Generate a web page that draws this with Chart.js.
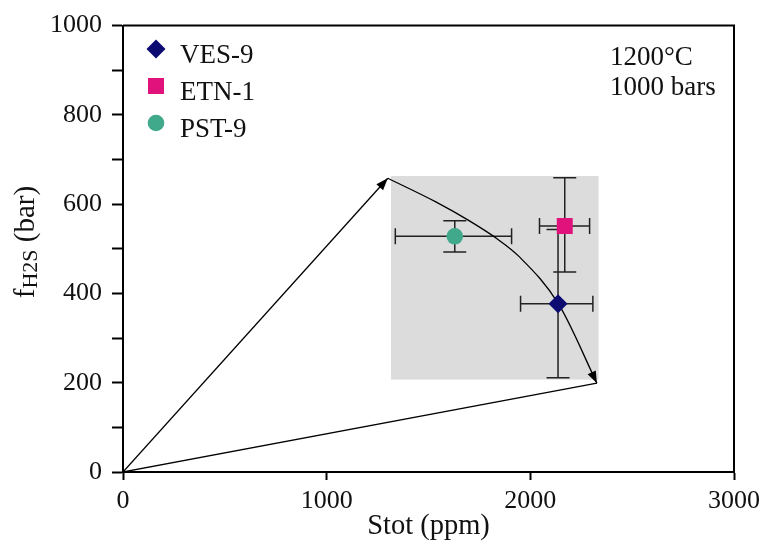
<!DOCTYPE html>
<html>
<head>
<meta charset="utf-8">
<script src="https://cdn.jsdelivr.net/npm/chart.js@4.4.1/dist/chart.umd.min.js"></script>
<style>
  html, body { margin: 0; padding: 0; background: #fff; }
  #wrap { width: 766px; height: 551px; }
</style>
</head>
<body>
<div id="wrap"><canvas id="chart"></canvas></div>
<script>
const samples = ["VES-9", "ETN-1", "PST-9"];
const stot = [2136, 2169, 1629];
const fh2s = [377, 551, 528];
const stotErrLow = [1952, 2045, 1337];
const stotErrHigh = [2307, 2291, 1908];
const fh2sErrLow = [211, 448, 493];
const fh2sErrHigh = [543, 659, 563];

const sampleColors = ["#0b0b72", "#e2127c", "#40a88b"];
const sampleShapes = ["rectRot", "rect", "circle"];
const sampleRadius = [9.5, 11.3, 8.3];

// grey field
const fieldStot = [1316, 2335];
const fieldFh2s = [207, 663];

// paths from the origin and the curve between their ends
const origin = [0, 0];
const upperEnd = [1300, 658];
const lowerEnd = [2327, 199];
const curveStot = [1300, 1536, 1699, 1838, 1944, 2139, 2327];
const curveFh2s = [658, 605, 563, 522, 483, 376, 199];

const xTicks = [0, 1000, 2000, 3000];
const yTicks = [0, 100, 200, 300, 400, 500, 600, 700, 800, 900, 1000];
const yLabels = [0, 200, 400, 600, 800, 1000];

const conditions = ["1200°C", "1000 bars"];

const SERIF = "'Liberation Serif', 'Times New Roman', serif";
const INK = "#111";

const pointSets = samples.map((name, i) => ({
    label: name,
    data: [{ x: stot[i], y: fh2s[i] }],
    pointStyle: sampleShapes[i],
    pointRadius: sampleRadius[i],
    backgroundColor: sampleColors[i],
    borderColor: sampleColors[i],
    borderWidth: 0,
    showLine: false,
    isSample: true,
}));

const lineBase = { showLine: true, pointRadius: 0, borderColor: "#000", borderWidth: 1.3, fill: false };

const lineSets = [
    { ...lineBase, label: "upper", arrow: true, data: [{ x: origin[0], y: origin[1] }, { x: upperEnd[0], y: upperEnd[1] }] },
    { ...lineBase, label: "lower", data: [{ x: origin[0], y: origin[1] }, { x: lowerEnd[0], y: lowerEnd[1] }] },
    {
        ...lineBase,
        label: "curve",
        arrow: true,
        data: curveStot.map((x, i) => ({ x, y: curveFh2s[i] })),
        cubicInterpolationMode: "monotone",
    },
];

const fieldPlugin = {
    id: "field",
    beforeDatasetsDraw(chart) {
        const { ctx, scales: { x, y } } = chart;
        ctx.save();
        // grey box
        const x0 = x.getPixelForValue(fieldStot[0]), x1 = x.getPixelForValue(fieldStot[1]);
        const y0 = y.getPixelForValue(fieldFh2s[1]), y1 = y.getPixelForValue(fieldFh2s[0]);
        ctx.fillStyle = "#dcdcdc";
        ctx.fillRect(x0, y0, x1 - x0, y1 - y0);
        // error bars
        ctx.strokeStyle = "#222";
        ctx.lineWidth = 1.5;
        samples.forEach((s, i) => {
            const cx = x.getPixelForValue(stot[i]), cy = y.getPixelForValue(fh2s[i]);
            const xl = x.getPixelForValue(stotErrLow[i]), xh = x.getPixelForValue(stotErrHigh[i]);
            const yl = y.getPixelForValue(fh2sErrLow[i]), yh = y.getPixelForValue(fh2sErrHigh[i]);
            ctx.beginPath();
            ctx.moveTo(xl, cy); ctx.lineTo(xh, cy);
            ctx.moveTo(xl, cy - 8); ctx.lineTo(xl, cy + 8);
            ctx.moveTo(xh, cy - 8); ctx.lineTo(xh, cy + 8);
            ctx.moveTo(cx, yl); ctx.lineTo(cx, yh);
            ctx.moveTo(cx - 11.5, yl); ctx.lineTo(cx + 11.5, yl);
            ctx.moveTo(cx - 11.5, yh); ctx.lineTo(cx + 11.5, yh);
            ctx.stroke();
        });
        ctx.restore();
    },
};

const arrowPlugin = {
    id: "arrows",
    afterDatasetsDraw(chart) {
        const ctx = chart.ctx;
        ctx.save();
        ctx.fillStyle = "#000";
        chart.data.datasets.forEach((ds, i) => {
            if (!ds.arrow) return;
            const pts = chart.getDatasetMeta(i).data;
            const end = pts[pts.length - 1], prev = pts[pts.length - 2];
            let fx = prev.x, fy = prev.y;
            if (end.cp1x !== undefined && (end.cp1x !== end.x || end.cp1y !== end.y)) { fx = end.cp1x; fy = end.cp1y; }
            const a = Math.atan2(end.y - fy, end.x - fx);
            const len = 12, half = 4.5;
            ctx.beginPath();
            ctx.moveTo(end.x, end.y);
            ctx.lineTo(end.x - len * Math.cos(a) + half * Math.sin(a), end.y - len * Math.sin(a) - half * Math.cos(a));
            ctx.lineTo(end.x - len * Math.cos(a) - half * Math.sin(a), end.y - len * Math.sin(a) + half * Math.cos(a));
            ctx.closePath();
            ctx.fill();
        });
        ctx.restore();
    },
};

const decorPlugin = {
    id: "decor",
    afterDraw(chart) {
        const { ctx, chartArea: a } = chart;
        ctx.save();
        // frame top and right
        ctx.strokeStyle = "#000";
        ctx.lineWidth = 2;
        ctx.beginPath();
        ctx.moveTo(a.left, a.top); ctx.lineTo(a.right, a.top); ctx.lineTo(a.right, a.bottom);
        ctx.stroke();

        // legend
        ctx.font = "27px " + SERIF;
        ctx.fillStyle = INK;
        ctx.textBaseline = "alphabetic";
        const lx = 156, tx = 180, base0 = 63, step = 37;
        chart.data.datasets.forEach(ds => {
            if (!ds.isSample) return;
            const k = samples.indexOf(ds.label);
            const by = base0 + k * step, my = by - 14;
            const r = ds.pointRadius;
            ctx.fillStyle = ds.backgroundColor;
            ctx.beginPath();
            if (ds.pointStyle === "rectRot") {
                ctx.moveTo(lx, my - r); ctx.lineTo(lx + r, my); ctx.lineTo(lx, my + r); ctx.lineTo(lx - r, my);
                ctx.closePath();
            } else if (ds.pointStyle === "rect") {
                const h = r * Math.SQRT1_2;
                ctx.rect(lx - h, my - h, 2 * h, 2 * h);
            } else {
                ctx.arc(lx, my, r, 0, Math.PI * 2);
            }
            ctx.fill();
            ctx.fillStyle = INK;
            ctx.fillText(ds.label, tx, by);
        });

        // run conditions
        ctx.fillText(conditions[0], 610, 65);
        ctx.fillText(conditions[1], 610, 95);

        // y title with subscript
        const big = "29px " + SERIF, small = "22px " + SERIF;
        ctx.font = big; const wF = ctx.measureText("f").width; const wB = ctx.measureText(" (bar)").width;
        ctx.font = small; const wS = ctx.measureText("H2S").width;
        const total = wF + wS + wB;
        ctx.translate(34, 242);
        ctx.rotate(-Math.PI / 2);
        let px = -total / 2;
        ctx.font = big; ctx.fillText("f", px, 0); px += wF;
        ctx.font = small; ctx.fillText("H2S", px, 3); px += wS;
        ctx.font = big; ctx.fillText(" (bar)", px, 0);
        ctx.restore();
    },
};

new Chart(document.getElementById("chart"), {
    type: "scatter",
    data: { datasets: [...pointSets, ...lineSets] },
    plugins: [fieldPlugin, arrowPlugin, decorPlugin],
    options: {
        responsive: true,
        maintainAspectRatio: false,
        animation: false,
        layout: { padding: { left: 0, right: 30, top: 22, bottom: 0 } },
        plugins: { legend: { display: false }, tooltip: { enabled: false } },
        scales: {
            x: {
                type: "linear",
                min: 0,
                max: 3000,
                afterBuildTicks: s => { s.ticks = xTicks.map(v => ({ value: v })); },
                afterFit: s => { s.height = 79; },
                grid: { drawOnChartArea: false, tickLength: 8, tickWidth: 2, tickColor: "#000" },
                border: { color: "#000", width: 2 },
                ticks: { font: { family: SERIF, size: 26 }, color: INK, padding: 6, maxRotation: 0, callback: v => String(v) },
                title: { display: true, text: "Stot (ppm)", font: { family: SERIF, size: 28.5 }, color: INK, padding: { top: 0, bottom: 7 } },
            },
            y: {
                type: "linear",
                min: 0,
                max: 1000,
                afterBuildTicks: s => { s.ticks = yTicks.map(v => ({ value: v })); },
                afterFit: s => { s.width = 123; },
                grid: { drawOnChartArea: false, tickLength: 11, tickWidth: 2, tickColor: "#000" },
                border: { color: "#000", width: 2 },
                ticks: {
                    font: { family: SERIF, size: 26 },
                    color: INK,
                    padding: 10,
                    callback: v => (yLabels.includes(v) ? String(v) : ""),
                },
            },
        },
    },
});
</script>
</body>
</html>
